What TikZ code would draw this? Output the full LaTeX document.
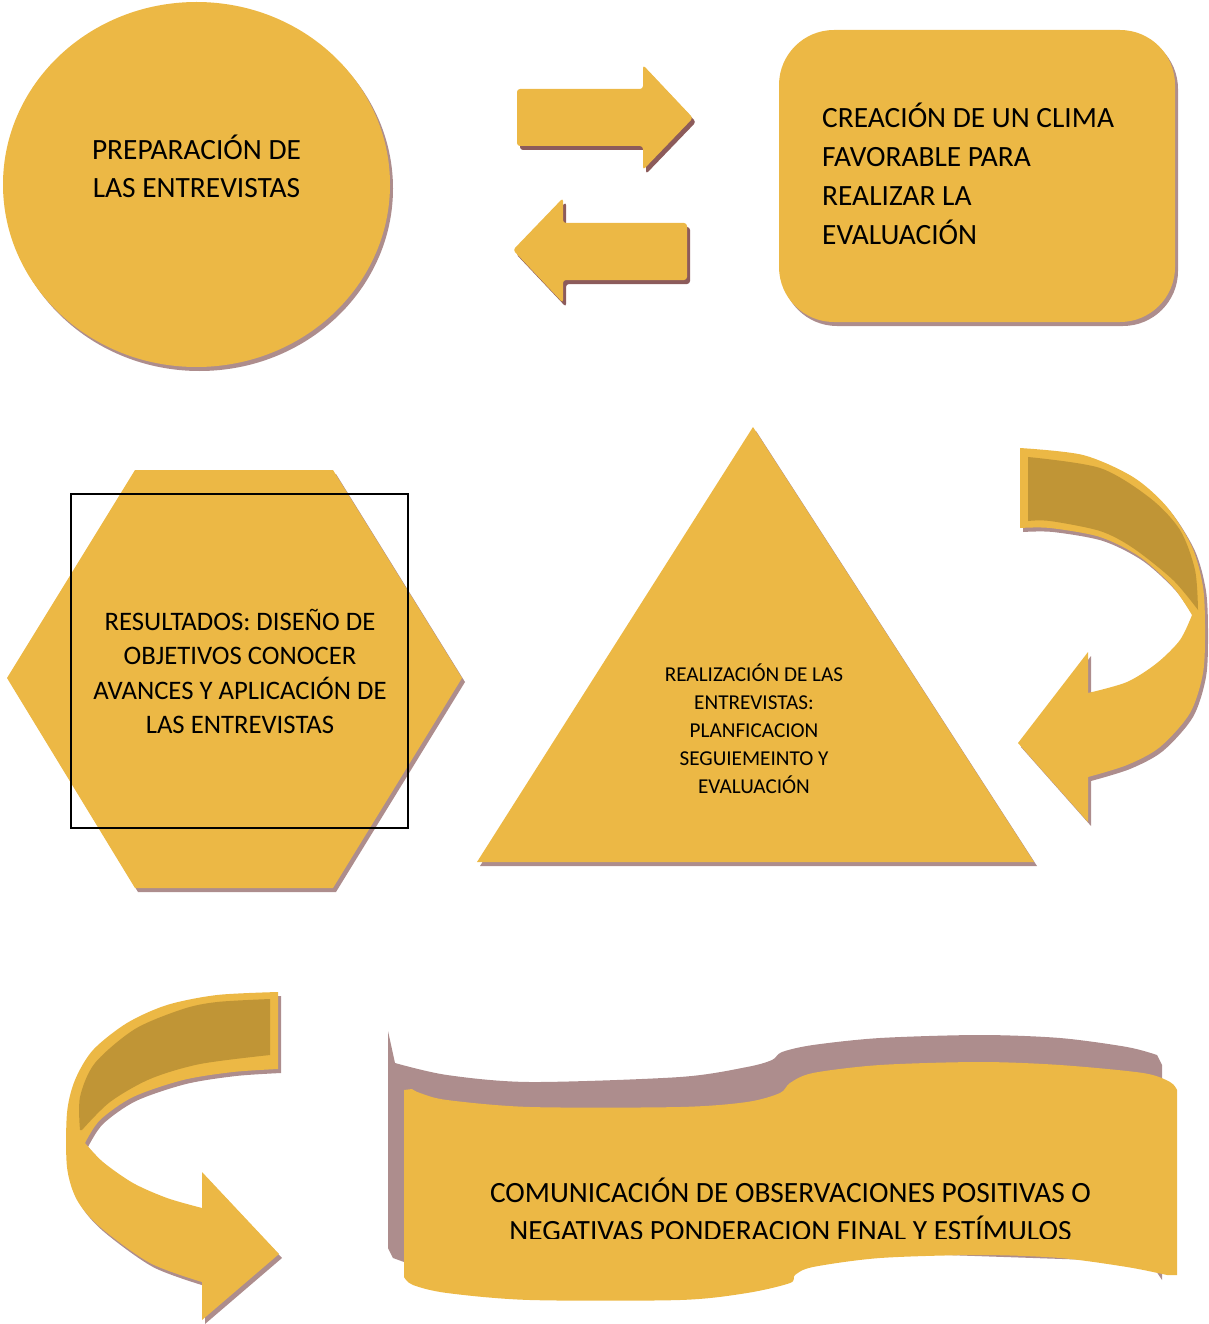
\documentclass[tikz,border=0pt]{standalone}
\usepackage{fontspec}
\setmainfont{Carlito}
\definecolor{gold}{HTML}{ECB845}
\definecolor{golddark}{HTML}{C09536}
\definecolor{mauve}{HTML}{AD8D8D}
\definecolor{brownsh}{HTML}{8C5B5B}
\begin{document}
\begin{tikzpicture}[x=1pt,y=-1pt,
  shadowed/.style={preaction={fill=#1, transform canvas={xshift=3pt,yshift=-4pt}}},
  shadowed/.default=mauve,
  goldfill/.style={fill=gold},
  txt/.style={anchor=base, inner sep=0pt, text=black},
  txtl/.style={anchor=base west, inner sep=0pt, text=black},
  big/.style={font=\fontsize{29.4}{38}\selectfont},
  mid/.style={font=\fontsize{26.7}{34}\selectfont},
  small/.style={font=\fontsize{21.2}{28}\selectfont}]
\useasboundingbox (0,0) rectangle (1208,1324);

% circle
\fill[goldfill, shadowed] (196.5,184.5) ellipse [x radius=193.5pt, y radius=182.5pt];
\node[txt, big] (p1) at (196.5,160) {PREPARACIÓN DE};
\node[txt, big] (p2) at (196.5,198) {LAS ENTREVISTAS};

% two straight arrows
\fill[goldfill, shadowed=brownsh, rounded corners=3pt] (517,89) -- (643,89) -- (643,65) -- (693,118) -- (643,170) -- (643,146) -- (517,146) -- cycle;
\fill[goldfill, shadowed=brownsh, rounded corners=3pt] (687,223) -- (563,223) -- (563,198) -- (513,250) -- (563,303) -- (563,280) -- (687,280) -- cycle;

% rounded rectangle
\fill[goldfill, shadowed, rounded corners=55pt] (779,30) rectangle (1175,322);
\node[txtl, big] (c1) at (822,128) {CREACIÓN DE UN CLIMA};
\node[txtl, big] (c2) at (822,166.7) {FAVORABLE PARA};
\node[txtl, big] (c3) at (822,205.4) {REALIZAR LA};
\node[txtl, big] (c4) at (822,244) {EVALUACIÓN};

% hexagon
\fill[goldfill, shadowed] (135,470) -- (333,470) -- (462,678) -- (333,888) -- (135,888) -- (7,678) -- cycle;
\draw[line width=1.5pt] (71,494) rectangle (408,828);
\node[txt, mid] (h1) at (240,630) {RESULTADOS: DISEÑO DE};
\node[txt, mid] (h2) at (240,664.5) {OBJETIVOS CONOCER};
\node[txt, mid] (h3) at (240,699) {AVANCES Y APLICACIÓN DE};
\node[txt, mid] (h4) at (240,733.5) {LAS ENTREVISTAS};

% triangle
\fill[goldfill, shadowed] (753,427) -- (1034,862) -- (477,862) -- cycle;
\node[txt, small] (t1) at (754,681) {REALIZACIÓN DE LAS};
\node[txt, small] (t2) at (754,709) {ENTREVISTAS:};
\node[txt, small] (t3) at (754,737) {PLANFICACION};
\node[txt, small] (t4) at (754,765) {SEGUIEMEINTO Y};
\node[txt, small] (t5) at (754,793) {EVALUACIÓN};

% right curved arrow
\fill[goldfill, shadowed] plot[smooth] coordinates {(1020,448) (1083,455) (1133,477) (1167,507) (1192,547) (1203,587) (1205,630) (1203,673) (1190,713) (1160,747) (1127,765) (1088,777)}
  -- (1088,822) -- (1018,743) -- (1088,652)
  -- plot[smooth] coordinates {(1088,693) (1127,682) (1157,663) (1180,640) (1192,615)}
  -- plot[smooth] coordinates {(1192,615) (1173,587) (1140,557) (1100,537) (1050,528) (1020,528)} -- cycle;
\fill[golddark] plot[smooth] coordinates {(1028,457) (1100,468) (1150,498) (1180,530) (1195,570) (1198,610)}
  -- plot[smooth] coordinates {(1198,610) (1173,580) (1133,548) (1100,531) (1050,521) (1028,521)} -- cycle;

% bottom-left curved arrow
\fill[goldfill, shadowed] plot[smooth] coordinates {(278,992) (217,995) (167,1005) (127,1023) (93,1050) (75,1080) (67,1113) (67,1167) (77,1200) (100,1227) (150,1263) (202,1282)}
  -- (202,1320) -- (279,1254) -- (202,1172)
  -- plot[smooth] coordinates {(202,1208) (167,1198) (133,1183) (103,1162) (85,1143)}
  -- plot[smooth] coordinates {(85,1143) (100,1120) (133,1097) (183,1080) (233,1072) (278,1069)} -- cycle;
\fill[golddark] plot[smooth] coordinates {(80,1130) (80,1097) (95,1063) (135,1029) (183,1009) (217,1002) (270,999)}
  -- (270,1055) -- plot[smooth] coordinates {(270,1055) (200,1064) (150,1079) (110,1102) (82,1130)} -- cycle;

% banner back
\fill[mauve] (388,1031) -- plot[smooth] coordinates {(395,1063) (447,1075) (530,1082) (680,1077) (747,1067) (772,1060) (782,1052) (813,1045) (880,1038) (980,1035) (1060,1038) (1127,1047) (1157,1055)}
  -- (1162,1065) -- (1162,1280) -- (1150,1262) -- (800,1250) -- (420,1262) -- (404,1262) -- (393,1258) -- (388,1248) -- cycle;
% banner front
\fill[goldfill] (404,1277) -- (404,1090) -- plot[smooth] coordinates {(412,1089) (420,1093) (447,1100) (530,1107) (680,1107) (747,1102) (780,1093) (790,1083) (813,1073) (880,1065) (980,1062) (1060,1065) (1143,1073) (1170,1082) (1177,1090)}
  -- (1177,1275) -- plot[smooth] coordinates {(1167,1275) (1127,1267) (1060,1258) (980,1255) (880,1258) (813,1267) (795,1275) (790,1283) (747,1293) (680,1300) (530,1300) (447,1293) (413,1285) (404,1277)} -- cycle;
\begin{scope}
  \clip (404,1150) rectangle (1177,1238.5);
  \node[txt, big] (b1) at (790.5,1202) {COMUNICACIÓN DE OBSERVACIONES POSITIVAS O};
  \node[txt, big] (b2) at (790.5,1240.4) {NEGATIVAS PONDERACION FINAL Y ESTÍMULOS};
\end{scope}
\end{tikzpicture}
\end{document}
